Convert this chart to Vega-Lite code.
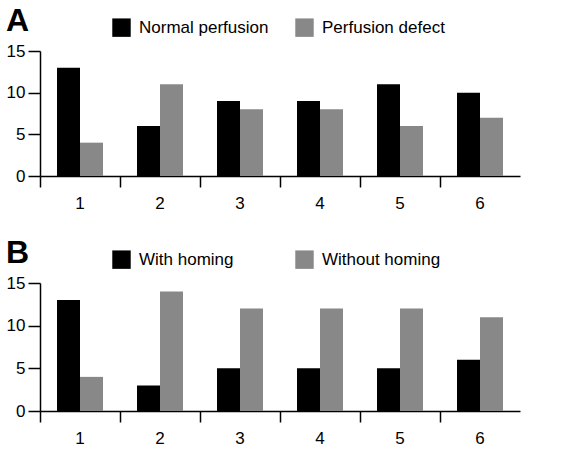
{
  "$schema": "https://vega.github.io/schema/vega-lite/v6.json",
  "padding": {"left": 6, "top": 5, "right": 5, "bottom": 5},
  "background": "white",
  "config": {
    "font": "Liberation Sans",
    "view": {"stroke": null},
    "axis": {"domainColor": "black", "tickColor": "black", "labelColor": "black", "domainWidth": 1.5, "tickWidth": 1.5, "labelFontSize": 17, "grid": false, "title": null},
    "title": {"font": "Liberation Sans", "fontSize": 32, "fontWeight": "bold", "anchor": "start", "frame": "bounds", "color": "black"},
    "legend": {"labelFontSize": 17, "labelColor": "black", "symbolType": "square", "symbolSize": 340, "symbolStrokeWidth": 0, "labelOffset": 8, "orient": "none", "direction": "horizontal", "title": null}
  },
  "datasets": {
    "a": [
      {"group": "1", "series": "Normal perfusion", "value": 13},
      {"group": "1", "series": "Perfusion defect", "value": 4},
      {"group": "2", "series": "Normal perfusion", "value": 6},
      {"group": "2", "series": "Perfusion defect", "value": 11},
      {"group": "3", "series": "Normal perfusion", "value": 9},
      {"group": "3", "series": "Perfusion defect", "value": 8},
      {"group": "4", "series": "Normal perfusion", "value": 9},
      {"group": "4", "series": "Perfusion defect", "value": 8},
      {"group": "5", "series": "Normal perfusion", "value": 11},
      {"group": "5", "series": "Perfusion defect", "value": 6},
      {"group": "6", "series": "Normal perfusion", "value": 10},
      {"group": "6", "series": "Perfusion defect", "value": 7}
    ],
    "b": [
      {"group": "1", "series": "With homing", "value": 13},
      {"group": "1", "series": "Without homing", "value": 4},
      {"group": "2", "series": "With homing", "value": 3},
      {"group": "2", "series": "Without homing", "value": 14},
      {"group": "3", "series": "With homing", "value": 5},
      {"group": "3", "series": "Without homing", "value": 12},
      {"group": "4", "series": "With homing", "value": 5},
      {"group": "4", "series": "Without homing", "value": 12},
      {"group": "5", "series": "With homing", "value": 5},
      {"group": "5", "series": "Without homing", "value": 12},
      {"group": "6", "series": "With homing", "value": 6},
      {"group": "6", "series": "Without homing", "value": 11}
    ]
  },
  "spacing": 26,
  "resolve": {"scale": {"color": "independent", "xOffset": "independent", "x": "independent", "y": "independent"}, "legend": {"color": "independent"}},
  "vconcat": [
    {
      "title": {"text": "A", "offset": -20},
      "data": {"name": "a"},
      "width": 480,
      "height": 125,
      "mark": {"type": "bar"},
      "encoding": {
        "x": {"field": "group", "type": "nominal", "scale": {"paddingInner": 0, "paddingOuter": 0},
              "axis": {"labelAngle": 0, "bandPosition": 0, "tickSize": 11, "labelPadding": 8}},
        "xOffset": {"field": "series", "type": "nominal", "scale": {"paddingInner": 0, "paddingOuter": 0.74}},
        "y": {"field": "value", "type": "quantitative", "scale": {"domain": [0, 15]},
              "axis": {"values": [0, 5, 10, 15], "tickSize": 12, "labelPadding": 3}},
        "color": {"field": "series", "type": "nominal",
                  "scale": {"domain": ["Normal perfusion", "Perfusion defect"], "range": ["#000000", "#888888"]},
                  "legend": {"legendX": 72, "legendY": -33, "columnPadding": 26}}
      }
    },
    {
      "title": {"text": "B", "offset": -20},
      "data": {"name": "b"},
      "width": 480,
      "height": 128,
      "mark": {"type": "bar"},
      "encoding": {
        "x": {"field": "group", "type": "nominal", "scale": {"paddingInner": 0, "paddingOuter": 0},
              "axis": {"labelAngle": 0, "bandPosition": 0, "tickSize": 11, "labelPadding": 8}},
        "xOffset": {"field": "series", "type": "nominal", "scale": {"paddingInner": 0, "paddingOuter": 0.74}},
        "y": {"field": "value", "type": "quantitative", "scale": {"domain": [0, 15]},
              "axis": {"values": [0, 5, 10, 15], "tickSize": 12, "labelPadding": 3}},
        "color": {"field": "series", "type": "nominal",
                  "scale": {"domain": ["With homing", "Without homing"], "range": ["#000000", "#888888"]},
                  "legend": {"legendX": 72, "legendY": -33, "columnPadding": 61}}
      }
    }
  ]
}
